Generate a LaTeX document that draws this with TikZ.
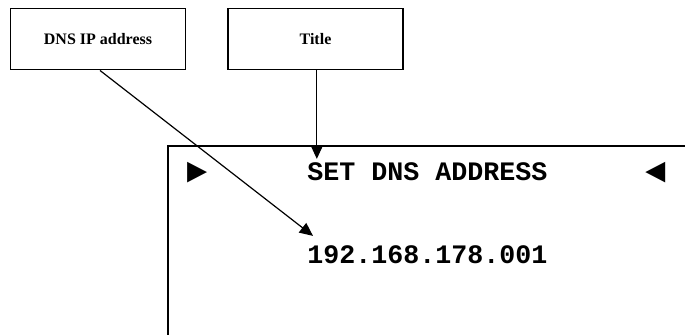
\documentclass[tikz,border=0pt]{standalone}
\usepackage{fontspec}
\setmainfont{Liberation Serif}
\newfontfamily\lcdfont{Liberation Mono}
\usetikzlibrary{arrows.meta, positioning, calc}
\tikzset{
	callout/.style ={rectangle, draw=black, line width=1.2pt, minimum width=131pt, minimum height=46pt,
		text centered, align=center, font=\bfseries\fontsize{12}{14}\selectfont},
	lcdtext/.style ={inner sep=0pt, anchor=base west, font=\lcdfont\bfseries\fontsize{20}{24}\selectfont},
	lcdmark/.style ={lcdtext, font=\lcdfont\fontsize{26}{30}\selectfont},
	pointer/.style ={-{Triangle[length=10pt, width=9pt]}, line width=0.9pt},
}
\begin{document}
\begin{tikzpicture}[x=0.75pt, y=-0.75pt]
	\useasboundingbox (0,0) rectangle (685,335);
	% callout boxes
	\node[callout] (dnsbox)   at (98,39)    {DNS IP address};
	\node[callout] (titlebox) at (315.5,39) {Title};
	% display frame
	\draw[line width=1pt] (168,335) -- (168,146) -- (685,146);
	\node[lcdmark] (ltri)     at (186,182) {►};
	\node[lcdtext] (settitle) at (307,180) {SET DNS ADDRESS};
	\node[lcdmark] (rtri)     at (645,182) {◄};
	\node[lcdtext] (ipaddr)   at (307,263) {192.168.178.001};
	% pointers
	\draw[pointer] ([xshift=1.5pt]dnsbox.south) -- ($(ipaddr.north west)+(6,-9)$);
	\draw[pointer] ([xshift=1pt]titlebox.south) -- ($([xshift=1pt]titlebox.south |- settitle.north)+(0,-3)$);
\end{tikzpicture}
\end{document}
